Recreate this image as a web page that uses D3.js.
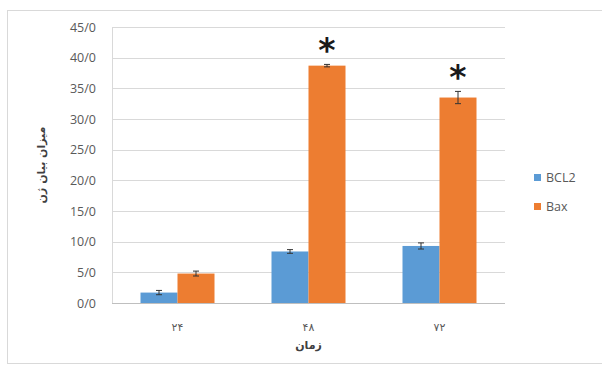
<!DOCTYPE html>
<html>
<head>
<meta charset="utf-8">
<script src="https://cdn.jsdelivr.net/npm/d3@7"></script>
<style>
  html, body { margin: 0; padding: 0; background: #fff; }
  svg { display: block; }
</style>
</head>
<body>
<svg id="chart" width="602" height="371"></svg>
<script>
// Gene expression of BCL2 and Bax over time (hours)
const categories = ["۲۴", "۴۸", "۷۲"];
const seriesNames = ["BCL2", "Bax"];
const bcl2Values = [1.7, 8.4, 9.3];
const bcl2Errors = [0.35, 0.3, 0.5];
const baxValues = [4.8, 38.7, 33.5];
const baxErrors = [0.4, 0.2, 1.0];
const significant = [false, true, true]; // Bax marked with an asterisk
const yTicks = [0, 5, 10, 15, 20, 25, 30, 35, 40, 45];
const yTickLabels = ["0/0", "5/0", "10/0", "15/0", "20/0", "25/0", "30/0", "35/0", "40/0", "45/0"];
const yTitle = "میزان بیان ژن";
const xTitle = "زمان";
const colors = ["#5B9BD5", "#ED7D31"];

const svg = d3.select("#chart");
const plot = { left: 112, right: 505, top: 27, bottom: 303 };

// chart frame
svg.append("rect")
  .attr("x", 7.5).attr("y", 10.5)
  .attr("width", 620).attr("height", 353)
  .attr("fill", "#fff").attr("stroke", "#d9d9d9").attr("stroke-width", 1);

const x = d3.scaleBand().domain(categories).range([plot.left, plot.right]).paddingInner(0).paddingOuter(0);
const x1 = d3.scaleBand().domain(seriesNames).range([0, 74]);
const y = d3.scaleLinear().domain([0, 45]).range([plot.bottom, plot.top]);

// gridlines
svg.append("g").selectAll("line").data(yTicks.slice(1)).join("line")
  .attr("x1", plot.left).attr("x2", plot.right)
  .attr("y1", d => Math.round(y(d)) + 0.5).attr("y2", d => Math.round(y(d)) + 0.5)
  .attr("stroke", "#d9d9d9").attr("stroke-width", 1);

// y axis
const yAxis = d3.axisLeft(y).tickValues(yTicks).tickSize(0).tickPadding(16)
  .tickFormat((d, i) => yTickLabels[i]);
const gy = svg.append("g").attr("transform", `translate(${plot.left},0)`).call(yAxis);
gy.select(".domain").attr("stroke", "#d9d9d9");
gy.selectAll("text").attr("fill", "#595959").style("font-family", "'Open Sans', 'DejaVu Sans', sans-serif").style("font-size", "12.5px");

// bars
const series = [
  { name: "BCL2", values: bcl2Values, errors: bcl2Errors },
  { name: "Bax", values: baxValues, errors: baxErrors }
];
const bandOffset = (x.bandwidth() - 74) / 2;

series.forEach((s, si) => {
  const g = svg.append("g");
  const data = categories.map((c, i) => ({ c, v: s.values[i], e: s.errors[i], i }));
  g.selectAll("rect").data(data).join("rect")
    .attr("x", d => x(d.c) + bandOffset + x1(s.name))
    .attr("y", d => y(d.v))
    .attr("width", x1.bandwidth())
    .attr("height", d => y(0) - y(d.v))
    .attr("fill", colors[si]);
  // error bars
  const cx = d => x(d.c) + bandOffset + x1(s.name) + x1.bandwidth() / 2;
  g.selectAll("line.err").data(data).join("line").attr("class", "err")
    .attr("x1", cx).attr("x2", cx)
    .attr("y1", d => y(d.v - d.e)).attr("y2", d => y(d.v + d.e))
    .attr("stroke", "#333").attr("stroke-width", 1);
  ["cap-top", "cap-bot"].forEach((cl, k) => {
    g.selectAll("line." + cl).data(data).join("line").attr("class", cl)
      .attr("x1", d => cx(d) - 3).attr("x2", d => cx(d) + 3)
      .attr("y1", d => y(k ? d.v - d.e : d.v + d.e)).attr("y2", d => y(k ? d.v - d.e : d.v + d.e))
      .attr("stroke", "#333").attr("stroke-width", 1);
  });
});

// x axis baseline
svg.append("line")
  .attr("x1", plot.left).attr("x2", plot.right)
  .attr("y1", plot.bottom + 0.5).attr("y2", plot.bottom + 0.5)
  .attr("stroke", "#bfbfbf");

// category labels
svg.append("g").selectAll("text").data(categories).join("text")
  .attr("x", d => x(d) + x.bandwidth() / 2)
  .attr("y", plot.bottom + 28)
  .attr("text-anchor", "middle")
  .attr("fill", "#595959")
  .style("font-family", "'DejaVu Sans', sans-serif").style("font-size", "11px")
  .text(d => d);

// significance asterisks above Bax bars
svg.append("g").selectAll("text").data(categories.filter((c, i) => significant[i])).join("text")
  .attr("x", c => x(c) + bandOffset + x1("Bax") + x1.bandwidth() / 2)
  .attr("y", c => { const i = categories.indexOf(c); return y(baxValues[i] + baxErrors[i]) - 2; })
  .attr("text-anchor", "middle")
  .attr("fill", "#1a1a1a")
  .style("font-family", "'DejaVu Sans', sans-serif").style("font-size", "33px").style("font-weight", "bold")
  .text("*");

// axis titles
svg.append("text")
  .attr("transform", `translate(45,${(plot.top + plot.bottom) / 2}) rotate(-90)`)
  .attr("text-anchor", "middle")
  .attr("fill", "#404040")
  .style("font-family", "'DejaVu Sans', sans-serif").style("font-size", "11px").style("font-weight", "bold")
  .text(yTitle);

svg.append("text")
  .attr("x", (plot.left + plot.right) / 2)
  .attr("y", 349)
  .attr("text-anchor", "middle")
  .attr("fill", "#404040")
  .style("font-family", "'DejaVu Sans', sans-serif").style("font-size", "11px").style("font-weight", "bold")
  .text(xTitle);

// legend
const legend = svg.append("g").selectAll("g").data(seriesNames).join("g")
  .attr("transform", (d, i) => `translate(534,${178 + i * 29})`);
legend.append("rect").attr("x", 0).attr("y", -4).attr("width", 7).attr("height", 7)
  .attr("fill", (d, i) => colors[i]);
legend.append("text").attr("x", 12).attr("y", 0).attr("dy", "0.35em")
  .attr("fill", "#595959")
  .style("font-family", "'Open Sans', 'DejaVu Sans', sans-serif").style("font-size", "12.5px")
  .text(d => d);
</script>
</body>
</html>
